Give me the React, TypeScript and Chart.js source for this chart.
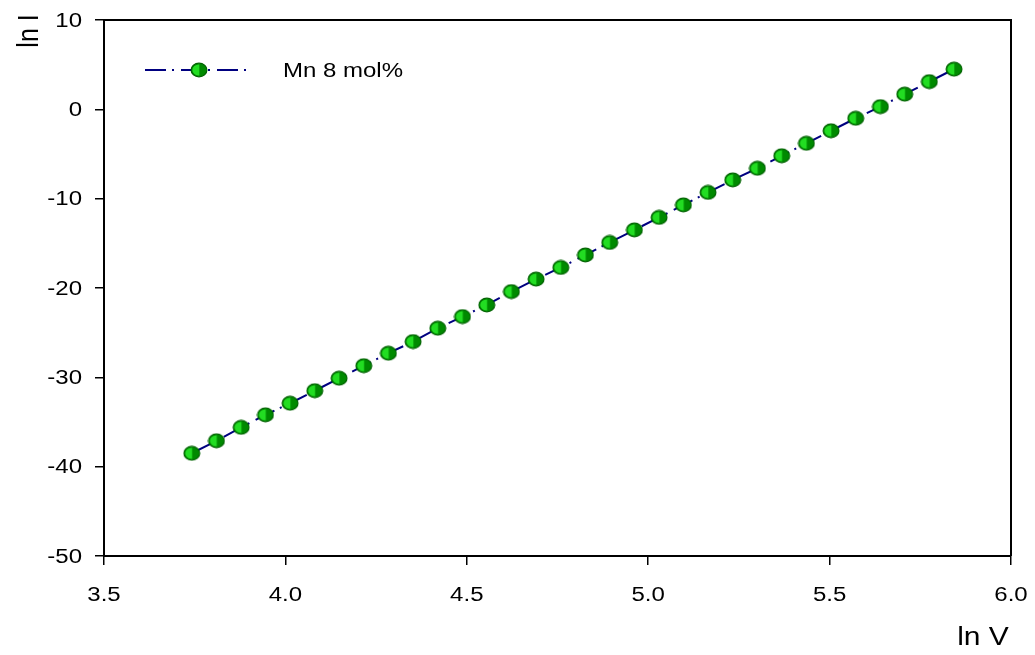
import React, { useEffect, useRef } from "react";
import { Chart, registerables } from "chart.js";
Chart.register(...registerables);

const lnV = [
  3.742, 3.810, 3.878, 3.945, 4.013, 4.081, 4.148, 4.216, 4.284, 4.352, 4.420,
  4.488, 4.555, 4.623, 4.691, 4.759, 4.827, 4.894, 4.962, 5.030, 5.097, 5.165,
  5.233, 5.301, 5.368, 5.436, 5.504, 5.572, 5.640, 5.707, 5.775, 5.843,
];
const lnI = [
  -38.5, -37.1, -35.6, -34.2, -32.9, -31.5, -30.1, -28.7, -27.3, -26.0, -24.5,
  -23.2, -21.9, -20.4, -19.0, -17.7, -16.3, -14.9, -13.5, -12.1, -10.7, -9.3,
  -7.9, -6.6, -5.2, -3.8, -2.4, -1.0, 0.3, 1.7, 3.1, 4.5,
];
const xTicks = [3.5, 4.0, 4.5, 5.0, 5.5, 6.0];
const yTicks = [-50, -40, -30, -20, -10, 0, 10];
const seriesLabel = "Mn 8 mol%";
const xTitle = "ln V";
const yTitle = "ln I";

const FONT = "Arial, 'Liberation Sans', sans-serif";
const SX = 1.2; // horizontal stretch of the reference's lettering

function makeMarker(): HTMLCanvasElement {
  const c = document.createElement("canvas");
  c.width = 18;
  c.height = 16;
  const g = c.getContext("2d")!;
  const cx = 9, cy = 8, rx = 7.9, ry = 6.8;
  g.beginPath();
  g.ellipse(cx, cy, rx, ry, 0, 0, Math.PI * 2);
  g.fillStyle = "#008a00";
  g.fill();
  g.save();
  g.beginPath();
  g.ellipse(cx, cy, rx - 1.3, ry - 1.3, 0, 0, Math.PI * 2);
  g.clip();
  g.fillStyle = "#22dd22";
  g.fillRect(0, 0, cx + 0.3, 16);
  g.restore();
  g.beginPath();
  g.ellipse(cx, cy, rx, ry, 0, 0, Math.PI * 2);
  g.strokeStyle = "#006400";
  g.lineWidth = 1.2;
  g.stroke();
  return c;
}

function stretchedText(
  ctx: CanvasRenderingContext2D,
  text: string,
  x: number,
  y: number,
  size: number,
  align: CanvasTextAlign
) {
  ctx.save();
  ctx.translate(x, y);
  ctx.scale(SX, 1);
  ctx.font = `${size}px ${FONT}`;
  ctx.textAlign = align;
  ctx.textBaseline = "middle";
  ctx.fillStyle = "#000";
  ctx.fillText(text, 0, 0);
  ctx.restore();
}

export default function App() {
  const ref = useRef<HTMLCanvasElement>(null);
  useEffect(() => {
    const marker = makeMarker();
    const dash = [21, 6, 2, 7];
    const overlay = {
      id: "overlay",
      afterDatasetsDraw(chart: any) {
        const { ctx, chartArea: a } = chart;
        const xs = chart.scales.x;
        const ys = chart.scales.y;
        ctx.save();
        // frame
        ctx.strokeStyle = "#000";
        ctx.lineWidth = 2;
        ctx.beginPath();
        ctx.moveTo(a.left, a.top);
        ctx.lineTo(a.right, a.top);
        ctx.lineTo(a.right, a.bottom);
        ctx.stroke();
        // tick labels
        xTicks.forEach((v) => {
          stretchedText(ctx, v.toFixed(1), xs.getPixelForValue(v), a.bottom + 39, 20, "center");
        });
        yTicks.forEach((v) => {
          stretchedText(ctx, String(v), a.left - 22, ys.getPixelForValue(v) + 1, 20, "right");
        });
        // legend
        ctx.strokeStyle = "#000080";
        ctx.lineWidth = 2;
        ctx.setLineDash(dash);
        ctx.beginPath();
        ctx.moveTo(145, 70);
        ctx.lineTo(250, 70);
        ctx.stroke();
        ctx.setLineDash([]);
        ctx.drawImage(marker, 199 - marker.width / 2, 70 - marker.height / 2);
        stretchedText(ctx, seriesLabel, 283, 71, 20, "left");
        // x title
        stretchedText(ctx, xTitle, 983, 638, 25, "center");
        // y title
        ctx.save();
        ctx.translate(30, 31);
        ctx.rotate(-Math.PI / 2);
        ctx.scale(1, SX);
        ctx.textAlign = "center";
        ctx.textBaseline = "middle";
        ctx.fillStyle = "#000";
        ctx.font = `25px ${FONT}`;
        ctx.fillText(yTitle, 0, 0);
        ctx.restore();
        ctx.restore();
      },
    };
    const chart = new Chart(ref.current!, {
      type: "line",
      data: {
        datasets: [
          {
            label: seriesLabel,
            data: lnV.map((x, i) => ({ x, y: lnI[i] })),
            borderColor: "#000080",
            borderWidth: 2,
            borderDash: dash,
            pointStyle: marker as any,
            pointRadius: 8,
            fill: false,
            tension: 0,
          },
        ],
      },
      options: {
        animation: false,
        responsive: true,
        maintainAspectRatio: false,
        layout: { padding: { top: 20, right: 24, left: 0, bottom: 0 } },
        plugins: { legend: { display: false }, tooltip: { enabled: false } },
        scales: {
          x: {
            type: "linear",
            min: 3.5,
            max: 6.0,
            afterBuildTicks: (s: any) => {
              s.ticks = xTicks.map((v) => ({ value: v }));
            },
            afterFit: (s: any) => {
              s.height = 99;
              s.paddingLeft = 0;
              s.paddingRight = 0;
            },
            ticks: { display: false },
            grid: {
              drawOnChartArea: false,
              drawTicks: true,
              tickLength: 9,
              color: "#000",
              lineWidth: 1.5,
            },
            border: { display: true, color: "#000", width: 2 },
          },
          y: {
            type: "linear",
            min: -50,
            max: 10,
            afterBuildTicks: (s: any) => {
              s.ticks = yTicks.map((v) => ({ value: v }));
            },
            afterFit: (s: any) => {
              s.width = 104;
              s.paddingTop = 0;
              s.paddingBottom = 0;
            },
            ticks: { display: false },
            grid: {
              drawOnChartArea: false,
              drawTicks: true,
              tickLength: 9,
              color: "#000",
              lineWidth: 1.5,
            },
            border: { display: true, color: "#000", width: 2 },
          },
        },
      },
      plugins: [overlay],
    });
    return () => chart.destroy();
  }, []);
  return (
    <div
      style={{
        position: "absolute",
        left: 0,
        top: 0,
        width: 1035,
        height: 655,
        background: "#fff",
      }}
    >
      <canvas ref={ref} />
    </div>
  );
}
